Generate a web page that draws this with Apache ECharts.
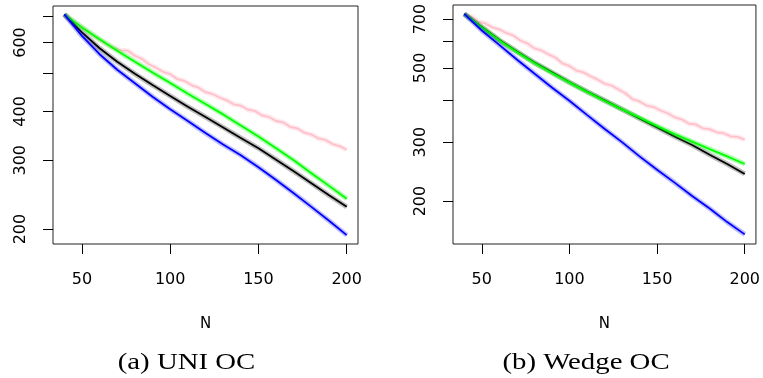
<!DOCTYPE html>
<html>
<head>
<meta charset="utf-8">
<script src="https://cdn.jsdelivr.net/npm/echarts@6/dist/echarts.min.js"></script>
<style>
  html, body { margin: 0; padding: 0; background: #fff; }
  #chart { width: 763px; height: 378px; }
</style>
</head>
<body>
<div id="chart"></div>
<script>
// N values
const nSmooth = [40, 50, 60, 70, 80, 90, 100, 110, 120, 130, 140, 150, 160, 170, 180, 190, 200];
const nPink = [40, 44, 48, 52, 56, 60, 64, 68, 72, 76, 80, 84, 88, 92, 96, 100, 104, 108, 112, 116,
  120, 124, 128, 132, 136, 140, 144, 148, 152, 156, 160, 164, 168, 172, 176, 180, 184, 188, 192, 196, 200];

// (a) UNI OC
const uniBlue = [708, 624, 560, 511, 472, 436, 405, 378, 352, 329, 309, 288, 267, 247, 228, 210, 193];
const uniBlack = [708, 637, 580, 536, 499, 467, 438, 411, 387, 364, 342, 322, 301, 281, 262, 244, 228];
const uniGreen = [708, 656, 612, 572, 536, 503, 473, 444, 418, 393, 368, 345, 322, 300, 278, 258, 239];
const uniPink = [708, 688, 666, 647, 626, 610, 594, 582, 573, 572, 555, 545, 528, 517, 505, 498, 484, 479, 467, 460,
  448, 443, 434, 427, 417, 414, 404, 401, 391, 387, 378, 375, 365, 362, 353, 349, 341, 338, 330, 326, 319];

// (b) Wedge OC
const wedgeBlue = [725, 647, 586, 530, 481, 437, 399, 362, 329, 300, 272, 248, 227, 207, 190, 173, 159];
const wedgeBlack = [725, 663, 606, 560, 519, 485, 453, 425, 400, 376, 353, 332, 312, 294, 275, 258, 241];
const wedgeGreen = [725, 661, 604, 558, 517, 483, 452, 424, 399, 376, 355, 335, 317, 301, 286, 272, 258];
const wedgePink = [725, 712, 688, 679, 661, 652, 636, 625, 604, 592, 572, 564, 549, 537, 516, 507, 491, 485, 472, 462,
  449, 443, 431, 420, 403, 397, 386, 382, 373, 366, 356, 351, 341, 339, 330, 328, 321, 319, 312, 311, 305];

// ticks
const xTicks = [50, 100, 150, 200];
const yTicks = [200, 300, 400, 500, 600, 700];
const uniYLabels = [200, 300, 400, 600];
const wedgeYLabels = [200, 300, 500, 700];
const captions = ['(a) UNI OC', '(b) Wedge OC'];

const FONT = 'DejaVu Sans';

function zip(xs, ys) {
    return xs.map((x, i) => [x, ys[i]]);
}

function xAxisFor(idx) {
    return {
        type: 'value', gridIndex: idx, min: 33.6, max: 206.4,
        name: 'N', nameLocation: 'middle', nameGap: 73,
        nameTextStyle: { fontFamily: FONT, fontSize: 15, color: '#000' },
        axisLine: { show: false },
        splitLine: { show: false },
        axisTick: { show: true, length: 10, customValues: xTicks, lineStyle: { color: '#000' } },
        axisLabel: { customValues: xTicks, margin: 28, fontFamily: FONT, fontSize: 16, color: '#000' }
    };
}

function yAxisFor(idx, min, max, labels) {
    return {
        type: 'log', logBase: 10, gridIndex: idx, min: min, max: max,
        axisLine: { show: false },
        splitLine: { show: false },
        axisTick: { show: true, length: 10, customValues: yTicks, lineStyle: { color: '#000' } },
        axisLabel: { customValues: labels, rotate: 90, margin: 24, fontFamily: FONT, fontSize: 16, color: '#000' }
    };
}

function lineSeries(idx, xs, ys, color, band) {
    const data = zip(xs, ys);
    return [
        {
            type: 'line', xAxisIndex: idx, yAxisIndex: idx, data: data, symbol: 'none', silent: true,
            lineStyle: { width: 5, color: band }
        },
        {
            type: 'line', xAxisIndex: idx, yAxisIndex: idx, data: data, symbol: 'none', silent: true,
            lineStyle: { width: 1.8, color: color }
        }
    ];
}

const panels = [
    { pink: uniPink, black: uniBlack, green: uniGreen, blue: uniBlue },
    { pink: wedgePink, black: wedgeBlack, green: wedgeGreen, blue: wedgeBlue }
];

let series = [];
panels.forEach((p, i) => {
    series = series.concat(
        lineSeries(i, nPink, p.pink, '#ffc0cb', 'rgba(255,192,203,0.35)'),
        lineSeries(i, nSmooth, p.black, '#000000', 'rgba(0,0,0,0.25)'),
        lineSeries(i, nSmooth, p.green, '#00ff00', 'rgba(0,255,0,0.3)'),
        lineSeries(i, nSmooth, p.blue, '#0000ff', 'rgba(0,0,255,0.25)')
    );
});

const chart = echarts.init(document.getElementById('chart'));
chart.setOption({
    animation: false,
    backgroundColor: '#fff',
    grid: [
        { left: 53, top: 6, width: 305, height: 238, show: true, borderColor: '#222', borderWidth: 1 },
        { left: 453, top: 5, width: 305, height: 239, show: true, borderColor: '#222', borderWidth: 1 }
    ],
    xAxis: [xAxisFor(0), xAxisFor(1)],
    yAxis: [yAxisFor(0, 183.2, 744, uniYLabels), yAxisFor(1, 148.8, 771, wedgeYLabels)],
    series: series,
    graphic: [
        { type: 'text', x: 186.5, y: 363, scaleX: 1.2,
          style: { text: captions[0], fill: '#000', fontSize: 24, fontFamily: 'Liberation Serif', align: 'center', verticalAlign: 'middle' } },
        { type: 'text', x: 586, y: 363, scaleX: 1.2,
          style: { text: captions[1], fill: '#000', fontSize: 24, fontFamily: 'Liberation Serif', align: 'center', verticalAlign: 'middle' } }
    ]
});
</script>
</body>
</html>
